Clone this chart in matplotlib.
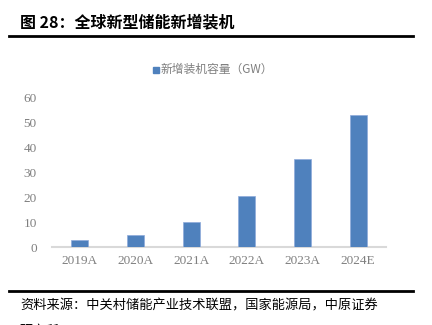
import matplotlib
matplotlib.use("Agg")
import matplotlib.pyplot as plt
from matplotlib.lines import Line2D

plt.rcParams['font.family'] = ['Noto Sans CJK SC', 'DejaVu Sans']

# data
years = ['2019A', '2020A', '2021A', '2022A', '2023A', '2024E']
new_capacity = [2.9, 4.7, 10.2, 20.4, 35.3, 53.2]
yticks = [0, 10, 20, 30, 40, 50, 60]

bar_color = '#4F81BD'
tick_color = '#7F7F7F'

W, H = 432, 325
fig = plt.figure(figsize=(W / 100, H / 100), dpi=100)

# plot area: x 52..386 px, y 98..247 px
ax = fig.add_axes([52 / W, 1 - 247 / H, (386 - 52) / W, (247 - 98) / H])
ax.bar(range(len(years)), new_capacity, width=0.31, color=bar_color,
       edgecolor='#8EAADB', linewidth=0.5, zorder=3)
ax.set_xlim(-0.5, len(years) - 0.5)
ax.set_ylim(0, 60)
ax.set_yticks(yticks)
ax.set_xticks(range(len(years)))
ax.set_xticklabels(years)
for lab in ax.get_xticklabels() + ax.get_yticklabels():
    lab.set_family('Liberation Serif')
    lab.set_fontsize(9.5)
    lab.set_color(tick_color)
ax.tick_params(axis='both', length=0)
ax.tick_params(axis='y', pad=11)
ax.tick_params(axis='x', pad=6)
for side in ['top', 'right', 'left']:
    ax.spines[side].set_visible(False)
ax.spines['bottom'].set_color('#D9D9D9')
ax.spines['bottom'].set_linewidth(1.5)

# title and rules
fig.text(20 / W, 1 - 22 / H, '图 28：全球新型储能新增装机', fontsize=11.5,
         fontweight='bold', va='center', ha='left')
fig.add_artist(Line2D([9 / W, 413 / W], [1 - 36 / H, 1 - 36 / H],
                      color='black', linewidth=2))
fig.add_artist(Line2D([9 / W, 413 / W], [1 - 291 / H, 1 - 291 / H],
                      color='black', linewidth=2))

# legend
fig.patches.append(plt.Rectangle((153 / W, 1 - 72.5 / H), 6 / W, 6 / H,
                                 transform=fig.transFigure, color=bar_color))
fig.text(161 / W, 1 - 69 / H, '新增装机容量（GW）', fontsize=8.5,
         color=tick_color, va='center', ha='left')

# source (second line is cut off at the bottom edge, as in the reference)
fig.text(20 / W, 1 - 306 / H, '资料来源：中关村储能产业技术联盟，国家能源局，中原证券',
         fontsize=9.5, va='center', ha='left')
fig.text(20 / W, 1 - 331 / H, '研究所', fontsize=9.5, va='center', ha='left')

fig.savefig('out.png', dpi=100)
